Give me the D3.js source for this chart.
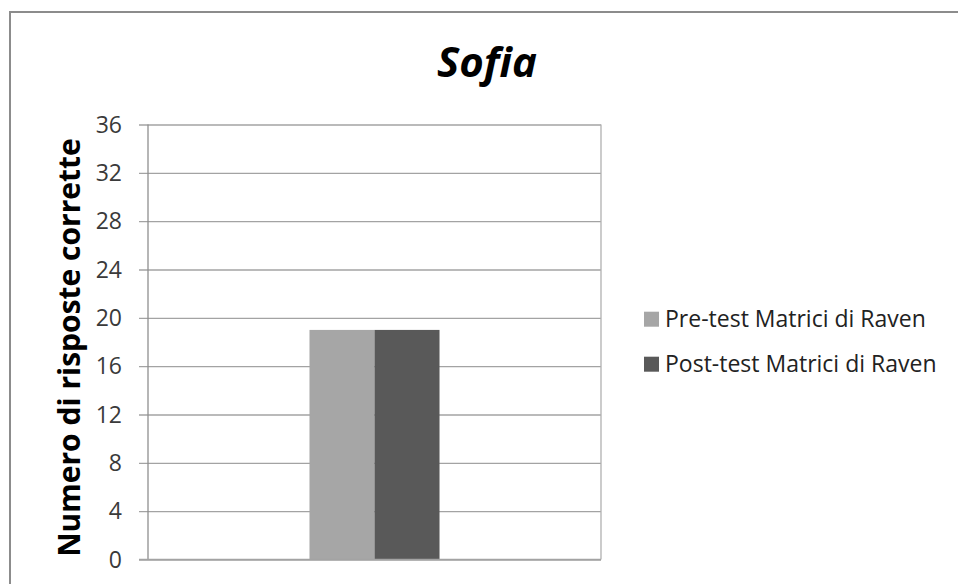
<!DOCTYPE html>
<html>
<head>
<meta charset="utf-8">
<script src="https://cdn.jsdelivr.net/npm/d3@7"></script>
<style>
  html, body { margin: 0; padding: 0; background: #fff; }
  svg { display: block; font-family: "Open Sans", "Noto Sans", sans-serif; }
</style>
</head>
<body>
<svg id="chart" width="958" height="584"></svg>
<script>
// Chart content
const chartTitle = "Sofia";
const yAxisTitle = "Numero di risposte corrette";
const categories = [""];
const seriesNames = ["Pre-test Matrici di Raven", "Post-test Matrici di Raven"];
const seriesColors = ["#a6a6a6", "#595959"];
const preValues = [19];
const postValues = [19];
const yTicks = [0, 4, 8, 12, 16, 20, 24, 28, 32, 36];

const svg = d3.select("#chart");
const W = 958, H = 584;

// Outer frame (extends beyond the visible area on the right and bottom)
svg.append("rect")
  .attr("x", 10).attr("y", 12)
  .attr("width", W + 20).attr("height", H + 20)
  .attr("fill", "#fff")
  .attr("stroke", "#8c8c8c")
  .attr("stroke-width", 2);

const plot = { left: 148, right: 601, top: 124.5, bottom: 559.5 };

const y = d3.scaleLinear().domain([0, 36]).range([plot.bottom, plot.top]);
const x0 = d3.scaleBand().domain(categories)
  .range([plot.left, plot.right])
  .paddingInner(0).paddingOuter(1.242);
const x1 = d3.scaleBand().domain(seriesNames)
  .range([0, x0.bandwidth()]).padding(0);

// Gridlines and tick marks
const yAxis = d3.axisLeft(y)
  .tickValues(yTicks)
  .tickSize(-(plot.right - plot.left))
  .tickSizeOuter(0)
  .tickPadding(26);

const gy = svg.append("g")
  .attr("transform", `translate(${plot.left},0)`)
  .call(yAxis);
gy.select(".domain").remove();
gy.selectAll(".tick line")
  .attr("x1", -9)
  .attr("stroke", "#a3a3a3")
  .attr("stroke-width", 1.3);
gy.selectAll(".tick text")
  .attr("fill", "#3a3a3a")
  .attr("dy", "0.34em")
  .style("font-size", "23px")
  .style("font-family", "'Open Sans', sans-serif");

// Plot frame: left axis and right edge
svg.append("line")
  .attr("x1", plot.left).attr("x2", plot.left)
  .attr("y1", plot.top).attr("y2", plot.bottom)
  .attr("stroke", "#8f8f8f").attr("stroke-width", 1.3);
svg.append("line")
  .attr("x1", plot.right).attr("x2", plot.right)
  .attr("y1", plot.top).attr("y2", plot.bottom)
  .attr("stroke", "#b0b0b0").attr("stroke-width", 1.3);

// Bars
const rows = categories.map((c, i) => ({
  category: c,
  values: [
    { series: seriesNames[0], value: preValues[i], color: seriesColors[0] },
    { series: seriesNames[1], value: postValues[i], color: seriesColors[1] }
  ]
}));

svg.append("g").selectAll("g")
  .data(rows).join("g")
  .attr("transform", d => `translate(${x0(d.category)},0)`)
  .selectAll("rect")
  .data(d => d.values).join("rect")
  .attr("x", d => x1(d.series))
  .attr("width", x1.bandwidth())
  .attr("y", d => y(d.value))
  .attr("height", d => y(0) - y(d.value))
  .attr("fill", d => d.color);

// Bottom axis line on top of bars
svg.append("line")
  .attr("x1", plot.left - 9).attr("x2", plot.right)
  .attr("y1", plot.bottom).attr("y2", plot.bottom)
  .attr("stroke", "#a3a3a3").attr("stroke-width", 1.3);

// Title
svg.append("text")
  .attr("x", 487).attr("y", 77)
  .attr("text-anchor", "middle")
  .attr("fill", "#000")
  .style("font-size", "42px")
  .style("font-weight", "bold")
  .style("font-style", "italic")
  .text(chartTitle);

// Y-axis title
svg.append("text")
  .attr("transform", `translate(80,347.5) rotate(-90)`)
  .attr("text-anchor", "middle")
  .attr("fill", "#000")
  .style("font-size", "30px")
  .style("font-weight", "bold")
  .text(yAxisTitle);

// Legend
const legend = svg.append("g");
const legendBaseline = [326.7, 371.7];
seriesNames.forEach((name, i) => {
  legend.append("rect")
    .attr("x", 644).attr("y", legendBaseline[i] - 15)
    .attr("width", 15).attr("height", 15)
    .attr("fill", seriesColors[i]);
  legend.append("text")
    .attr("x", 665).attr("y", legendBaseline[i])
    .attr("fill", "#222")
    .style("font-size", "23px")
    .text(name);
});
</script>
</body>
</html>
